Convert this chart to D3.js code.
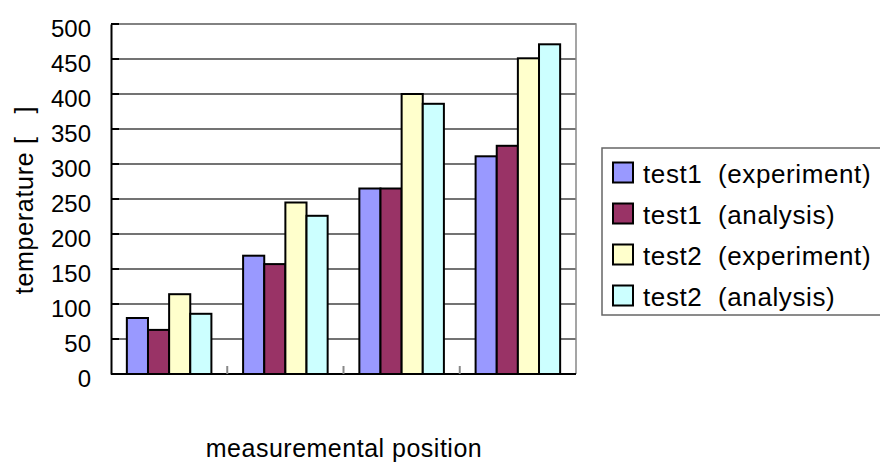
<!DOCTYPE html>
<html><head><meta charset="utf-8">
<script src="https://cdn.jsdelivr.net/npm/d3@7"></script>
<style>body{margin:0;background:#fff}svg{display:block}text{font-family:"Liberation Sans",Arial,sans-serif;fill:#000;white-space:pre}</style>
</head><body><div id="c"></div>
<script>
const categories = ["1", "2", "3", "4"];
const seriesNames = ["test1  (experiment)", "test1  (analysis)", "test2  (experiment)", "test2  (analysis)"];
const test1Experiment = [80, 169, 265, 311];
const test1Analysis = [63, 157, 265, 326];
const test2Experiment = [114, 245, 400, 451];
const test2Analysis = [86, 226, 386, 471];
const yTicks = [0, 50, 100, 150, 200, 250, 300, 350, 400, 450, 500];
const colors = ["#9999FF", "#993366", "#FFFFCC", "#CCFFFF"];
const seriesValues = [test1Experiment, test1Analysis, test2Experiment, test2Analysis];

const W = 880, H = 468;
const m = {l:111, t:24, r:576, b:374};
const svg = d3.select("#c").append("svg").attr("width", W).attr("height", H);

const y = d3.scaleLinear().domain([0, 500]).range([m.b, m.t]);
const x0 = d3.scaleBand().domain(categories).range([m.l, m.r]).paddingInner(0).paddingOuter(0);
const bw = x0.bandwidth() / 5.5;
const x1 = d3.scaleBand().domain(d3.range(4)).range([0.75*bw, 4.75*bw]).padding(0);

// gridlines
svg.append("g").selectAll("line").data(yTicks.filter(d=>d>0)).join("line")
  .attr("x1", m.l).attr("x2", m.r).attr("y1", d=>y(d)).attr("y2", d=>y(d))
  .attr("stroke", "#444").attr("stroke-width", 1.3);

// plot border top/right
svg.append("path").attr("d", `M${m.l},${m.t}H${m.r}V${m.b}`).attr("fill","none").attr("stroke","#888").attr("stroke-width",1.5);

// bars
const g = svg.append("g");
categories.forEach((c, ci) => {
  seriesValues.forEach((vals, si) => {
    g.append("rect")
      .attr("x", x0(c) + x1(si))
      .attr("y", y(vals[ci]))
      .attr("width", x1.bandwidth())
      .attr("height", y(0) - y(vals[ci]))
      .attr("fill", colors[si]).attr("stroke", "#000").attr("stroke-width", 2);
  });
});

// y axis
const ya = d3.axisLeft(y).tickValues(yTicks).tickSize(0).tickPadding(20);
const yg = svg.append("g").attr("transform", `translate(${m.l},0)`).call(ya);
yg.select(".domain").attr("stroke","#000").attr("stroke-width",2);
yg.selectAll("text").attr("font-size", 24).attr("dy","0.5em").attr("font-family","Liberation Sans, Arial, sans-serif");
// inner y ticks
svg.append("g").selectAll("line").data(yTicks).join("line")
  .attr("x1", m.l).attr("x2", m.l+8).attr("y1", d=>y(d)).attr("y2", d=>y(d))
  .attr("stroke","#000").attr("stroke-width",2);

// x axis
svg.append("line").attr("x1", m.l).attr("x2", m.r).attr("y1", m.b).attr("y2", m.b).attr("stroke","#000").attr("stroke-width",2);
svg.append("g").selectAll("line").data(categories.slice(1)).join("line")
  .attr("x1", d=>x0(d)).attr("x2", d=>x0(d)).attr("y1", m.b).attr("y2", m.b-8)
  .attr("stroke","#888").attr("stroke-width",2);

// axis titles
svg.append("text").attr("x", 344).attr("y", 457).attr("text-anchor","middle").attr("font-size", 25).attr("letter-spacing", 0.5).text("measuremental position");
svg.append("text").attr("transform","translate(33,200) rotate(-90)").attr("text-anchor","middle").attr("font-size", 25).attr("letter-spacing", 0.7).text("temperature [   ]");

// legend
const lg = svg.append("g");
lg.append("rect").attr("x", 602).attr("y", 148).attr("width", 300).attr("height", 167).attr("fill","#fff").attr("stroke","#666").attr("stroke-width",1.5);
seriesNames.forEach((n, i) => {
  const cy = 172.5 + i*41;
  lg.append("rect").attr("x", 613).attr("y", cy-10).attr("width", 20).attr("height", 20).attr("fill", colors[i]).attr("stroke","#000").attr("stroke-width",2);
  lg.append("text").attr("x", 643).attr("y", cy + 10).attr("font-size", 26).attr("letter-spacing", 0.6).text(n);
});
</script></body></html>
